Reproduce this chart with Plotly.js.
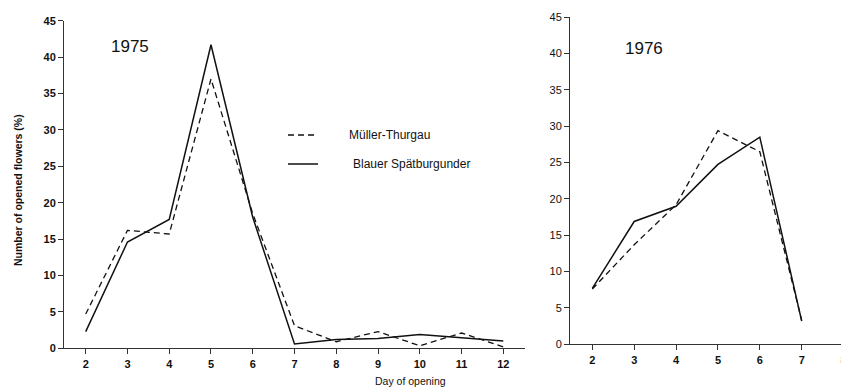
<!DOCTYPE html>
<html><head><meta charset="utf-8">
<script src="https://cdn.plot.ly/plotly-3.0.1.min.js"></script>
<style>html,body{margin:0;padding:0;overflow:hidden;background:#fff}#c{width:880px;height:389px}</style>
</head><body><div id="c"></div>
<script>
const days1975 = [2,3,4,5,6,7,8,9,10,11,12];
const muller1975 = [4.7,16.2,15.7,37.0,18.5,3.1,0.9,2.3,0.35,2.1,0.2];
const blauer1975 = [2.3,14.6,17.7,41.7,18.0,0.6,1.2,1.35,1.9,1.5,1.0];
const days1976 = [2,3,4,5,6,7];
const muller1976 = [7.6,13.7,19.2,29.4,26.5,3.3];
const blauer1976 = [7.7,16.9,19.0,24.75,28.5,3.2];
const seriesNames = ["Müller-Thurgau","Blauer Spätburgunder"];
const yTicks = [0,5,10,15,20,25,30,35,40,45];
const xTicks1975 = [2,3,4,5,6,7,8,9,10,11,12];
const xTicks1976 = [2,3,4,5,6,7,8];

const W = 880, H = 389;
const px = v => v / W, py = v => 1 - v / H;
const lineCol = '#111';
const dashStyle = '6px,4px';
const FAM = 'Liberation Sans, Arial, sans-serif';

const traces = [
  {x: days1975, y: muller1975, xaxis:'x', yaxis:'y', mode:'lines', name:seriesNames[0], line:{color:lineCol,width:1.3,dash:dashStyle}},
  {x: days1975, y: blauer1975, xaxis:'x', yaxis:'y', mode:'lines', name:seriesNames[1], line:{color:lineCol,width:1.5}},
  {x: days1976, y: muller1976, xaxis:'x2', yaxis:'y2', mode:'lines', name:seriesNames[0], line:{color:lineCol,width:1.3,dash:dashStyle}},
  {x: days1976, y: blauer1976, xaxis:'x2', yaxis:'y2', mode:'lines', name:seriesNames[1], line:{color:lineCol,width:1.5}}
];

const tf = {family:FAM, size:11, color:'#111', weight:'bold'};
const tfn = {family:FAM, size:11, color:'#111'};
const axCommon = {showgrid:false, zeroline:false, showline:true, linecolor:'#333', linewidth:1, ticks:'outside', ticklen:5, tickcolor:'#333', tickwidth:1, fixedrange:true};

function note(x, y, text, font, extra) {
  return Object.assign({xref:'paper', yref:'paper', x:px(x), y:py(y), text:text, showarrow:false,
    xanchor:'center', yanchor:'middle', font:font}, extra || {});
}

const layout = {
  width: W, height: H, margin:{l:0,r:0,t:0,b:0}, showlegend:false,
  paper_bgcolor:'#fff', plot_bgcolor:'#fff',
  font: tfn,
  xaxis: Object.assign({}, axCommon, {domain:[px(64), px(525)], range:[1.48,12.52], tickvals:xTicks1975, tickfont:tf, anchor:'y'}),
  yaxis: Object.assign({}, axCommon, {domain:[py(348.3), py(20.7)], range:[0,45], tickvals:yTicks, tickfont:tf, anchor:'x'}),
  xaxis2: Object.assign({}, axCommon, {domain:[px(570), 1], range:[1.467,8.87], tickvals:xTicks1976, tickfont:tf, anchor:'y2'}),
  yaxis2: Object.assign({}, axCommon, {domain:[py(344.3), py(17.3)], range:[0,45], tickvals:yTicks, tickfont:tfn, anchor:'x2'}),
  shapes: [
    {type:'line', xref:'paper', yref:'paper', x0:px(288), x1:px(318), y0:py(135), y1:py(135), line:{color:lineCol,width:1.3,dash:dashStyle}},
    {type:'line', xref:'paper', yref:'paper', x0:px(288), x1:px(318), y0:py(164), y1:py(164), line:{color:lineCol,width:1.5}}
  ],
  annotations: [
    note(130, 47, '1975', {family:FAM, size:17, color:'#111'}),
    note(644, 48, '1976', {family:FAM, size:17, color:'#111'}),
    note(347, 135, seriesNames[0], {family:FAM, size:12, color:'#111'}, {xanchor:'left'}),
    note(351, 164, seriesNames[1], {family:FAM, size:12, color:'#111'}, {xanchor:'left'}),
    note(410, 381, 'Day of opening', {family:FAM, size:10.5, color:'#111'}),
    note(18, 190, 'Number of opened flowers (%)', {family:FAM, size:10.5, color:'#111', weight:'bold'}, {textangle:-90})
  ]
};

Plotly.newPlot('c', traces, layout, {displayModeBar:false, staticPlot:true});
</script></body></html>
